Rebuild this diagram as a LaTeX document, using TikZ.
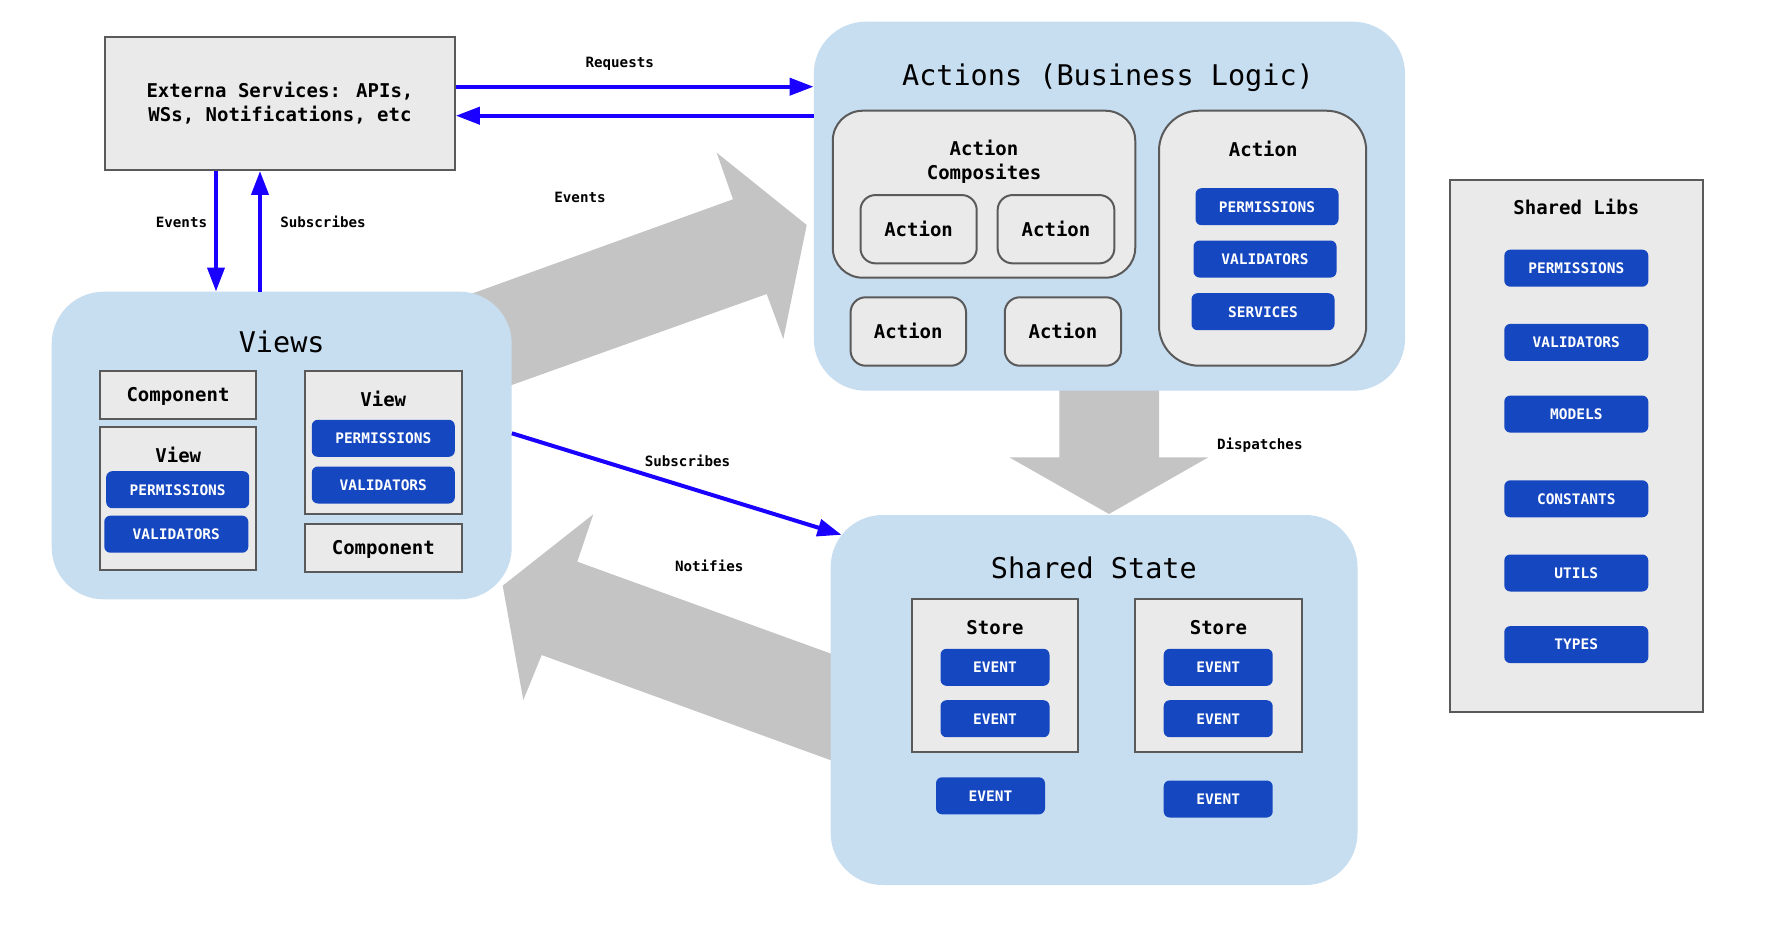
\documentclass[tikz,border=0pt]{standalone}
\usepackage{fontspec}
\setmainfont{DejaVu Sans Mono}
\usetikzlibrary{arrows.meta,calc}
\definecolor{paneblue}{RGB}{199,221,240}
\definecolor{boxgray}{RGB}{234,234,234}
\definecolor{edgegray}{RGB}{90,90,90}
\definecolor{btnblue}{RGB}{21,71,192}
\definecolor{fatgray}{RGB}{196,196,196}
\definecolor{linkblue}{RGB}{26,0,255}
\newcommand{\ttlfont}{\fontsize{28.5}{34}\selectfont}
\newcommand{\boxfont}{\fontsize{19}{24}\selectfont\bfseries}
\newcommand{\btnfont}{\fontsize{14.5}{17}\selectfont\bfseries}
\newcommand{\lblfont}{\fontsize{14.2}{17}\selectfont\bfseries}

\begin{document}
\begin{tikzpicture}[x=1pt,y=-1pt]
\tikzset{pane/.style={fill=paneblue, rounded corners=52pt, inner sep=0pt}}
\tikzset{graybox/.style={draw=edgegray, fill=boxgray, line width=2pt, inner sep=0pt, font=\boxfont}}
\tikzset{softbox/.style={graybox, rounded corners=15pt}}
\tikzset{capline/.style={text height=13.9pt, text depth=0pt}}
\tikzset{panetitle/.style={font=\ttlfont, inner sep=0pt, text height=20.8pt, text depth=0pt}}
\tikzset{boxtitle/.style={font=\boxfont, inner sep=0pt, align=center}}
\tikzset{btn/.style={fill=btnblue, text=white, rounded corners=6pt, inner sep=0pt, minimum height=37pt, minimum width=143pt, text height=10.6pt, text depth=0pt, font=\btnfont}}
\tikzset{evbtn/.style={btn, minimum width=109pt}}
\tikzset{lbl/.style={font=\lblfont, inner sep=0pt, text height=10.4pt, text depth=0pt}}
\tikzset{link/.style={draw=linkblue, line width=4pt, -{Triangle[length=24pt,width=17pt]}}}
\tikzset{fat/.style={fill=fatgray}}

\path[fill=white] (0,0) rectangle (1765,929);

\fill[fat] (440,305.2) -- (733,199.3) -- (716.7,152.7) -- (806.7,225) -- (783.3,339) -- (766.7,294) -- (440,410.6) -- cycle;
\fill[fat] (870,667.8) -- (577.3,561.7) -- (593.3,514.3) -- (502.7,585.7) -- (523.3,700) -- (541.7,655) -- (870,774.5) -- cycle;
\fill[fat] (1059.3,380) -- (1159,380) -- (1159,457.3) -- (1208.3,457.3) -- (1109,514) -- (1009.3,457.3) -- (1059.3,457.3) -- cycle;

\node[graybox, align=center, minimum width=349.7pt, minimum height=133.3pt] (ext-services) at (280,103.3) {Externa Services: APIs,\\WSs, Notifications, etc};

\node[pane, minimum width=460pt, minimum height=307.6pt] (views) at (281.7,445.5) {};
\node[panetitle] (views-title) at (281.7,341.7) {Views};
\node[graybox, capline, minimum width=156pt, minimum height=48.3pt] (comp-a) at (178,394.8) {Component};
\node[graybox, minimum width=156pt, minimum height=142.7pt] (view-left) at (178,498.7) {};
\node[boxtitle, capline] (view-left-title) at (178.3,455.7) {View};
\node[btn] (view-left-perm) at (177.7,489.7) {PERMISSIONS};
\node[btn, minimum width=144pt] (view-left-val) at (176.3,534.2) {VALIDATORS};
\node[graybox, minimum width=156.7pt, minimum height=143.3pt] (view-right) at (383.3,442.3) {};
\node[boxtitle, capline] (view-right-title) at (383.3,399.3) {View};
\node[btn] (view-right-perm) at (383.3,438.3) {PERMISSIONS};
\node[btn] (view-right-val) at (383.3,485) {VALIDATORS};
\node[graybox, capline, minimum width=156.7pt, minimum height=47.7pt] (comp-b) at (383.3,547.8) {Component};

\node[pane, minimum width=591.2pt, minimum height=369pt] (actions) at (1109.4,206.2) {};
\node[panetitle] (actions-title) at (1108,75) {Actions (Business Logic)};
\node[graybox, rounded corners=30pt, minimum width=302.5pt, minimum height=167pt] (composites) at (984,194.2) {};
\node[boxtitle] (composites-title) at (984,161.5) {Action\\Composites};
\node[softbox, capline, minimum width=116.2pt, minimum height=68.3pt] (action-1) at (918.6,229.2) {Action};
\node[softbox, capline, minimum width=116.7pt, minimum height=68.3pt] (action-2) at (1056,229.2) {Action};
\node[softbox, capline, minimum width=115.4pt, minimum height=68.4pt] (action-3) at (908.3,331.5) {Action};
\node[softbox, capline, minimum width=116.2pt, minimum height=68.4pt] (action-4) at (1062.9,331.5) {Action};
\node[graybox, rounded corners=40pt, minimum width=207.2pt, minimum height=255pt] (action-full) at (1262.6,238.2) {};
\node[boxtitle, capline] (action-full-title) at (1263.2,150) {Action};
\node[btn] (action-perm) at (1267,206.7) {PERMISSIONS};
\node[btn] (action-val) at (1265,259) {VALIDATORS};
\node[btn] (action-serv) at (1263,311.7) {SERVICES};

\node[pane, minimum width=526.8pt, minimum height=370pt] (state) at (1094.1,700) {};
\node[panetitle] (state-title) at (1093.8,568.3) {Shared State};
\node[graybox, minimum width=166.4pt, minimum height=152.4pt] (store-1) at (995,675.5) {};
\node[boxtitle, capline] (store-1-title) at (995,627.7) {Store};
\node[evbtn] (store-1-ev-1) at (995,667.3) {EVENT};
\node[evbtn] (store-1-ev-2) at (995,718.7) {EVENT};
\node[graybox, minimum width=167.5pt, minimum height=152.4pt] (store-2) at (1218.4,675.5) {};
\node[boxtitle, capline] (store-2-title) at (1218.4,627.7) {Store};
\node[evbtn] (store-2-ev-1) at (1218.2,667.3) {EVENT};
\node[evbtn] (store-2-ev-2) at (1218.2,718.7) {EVENT};
\node[evbtn] (state-ev-1) at (990.5,795.8) {EVENT};
\node[evbtn] (state-ev-2) at (1218.2,799) {EVENT};

\node[graybox, minimum width=252.7pt, minimum height=532.4pt] (shared-libs) at (1576.4,445.7) {};
\node[boxtitle, capline] (shared-libs-title) at (1576.3,207.5) {Shared Libs};
\node[btn, minimum width=144pt] (lib-perm) at (1576.3,268.2) {PERMISSIONS};
\node[btn, minimum width=144pt] (lib-val) at (1576.3,342.4) {VALIDATORS};
\node[btn, minimum width=144pt] (lib-models) at (1576.3,414.1) {MODELS};
\node[btn, minimum width=144pt] (lib-const) at (1576.3,498.8) {CONSTANTS};
\node[btn, minimum width=144pt] (lib-utils) at (1576.3,573) {UTILS};
\node[btn, minimum width=144pt] (lib-types) at (1576.3,644.6) {TYPES};

\coordinate (req-start) at ($(ext-services.east)+(0,-16.6)$);
\draw[link] (req-start) -- (req-start -| actions.west);
\coordinate (resp-start) at ($(actions.west)+(0,-90.5)$);
\draw[link] (resp-start) -- (resp-start -| ext-services.east);
\coordinate (ev-start) at ($(ext-services.south)+(-64,0)$);
\draw[link] (ev-start) -- (ev-start |- views.north);
\coordinate (sub-start) at ($(views.north)+(-21.7,0)$);
\draw[link] (sub-start) -- (sub-start |- ext-services.south);
\draw[link] ($(views.east)+(0,-12.2)$) -- ($(state.north west)+(11,20)$);

\node[lbl] (lbl-requests) at (619.7,62) {Requests};
\node[lbl] (lbl-events-ext) at (181.5,222) {Events};
\node[lbl] (lbl-sub-ext) at (323,222) {Subscribes};
\node[lbl] (lbl-events) at (580,197.7) {Events};
\node[lbl] (lbl-sub-state) at (687.5,461) {Subscribes};
\node[lbl] (lbl-notifies) at (709.2,566.7) {Notifies};
\node[lbl] (lbl-dispatches) at (1259.8,444.3) {Dispatches};
\end{tikzpicture}
\end{document}
